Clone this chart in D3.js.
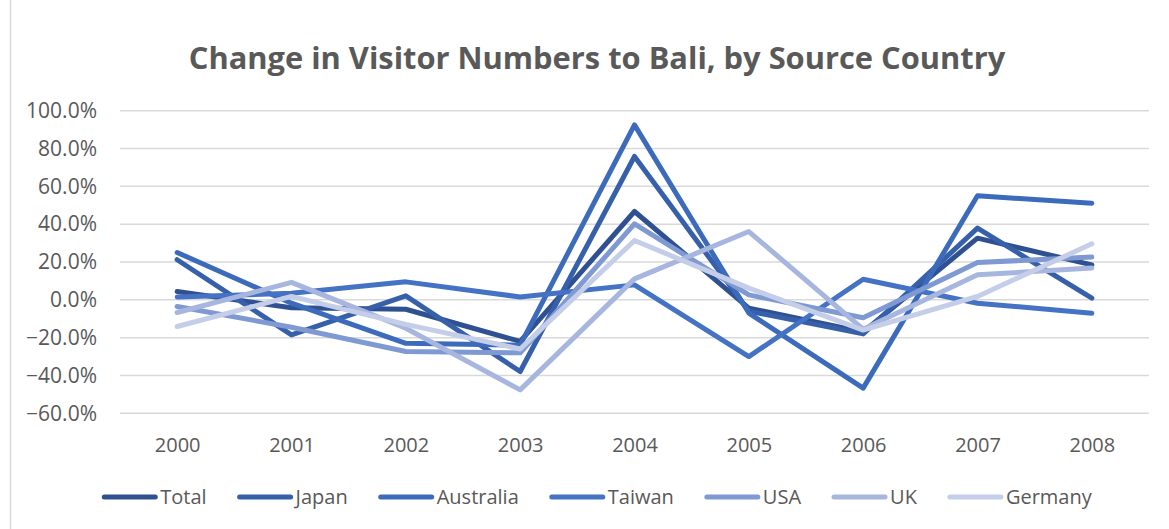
<!DOCTYPE html>
<html>
<head>
<meta charset="utf-8">
<script src="https://cdn.jsdelivr.net/npm/d3@7"></script>
<style>
    body { margin: 0; background: #fff; }
    text { font-family: "Open Sans", sans-serif; fill: #595959; }
</style>
</head>
<body>
<div id="chart"></div>
<script>
"use strict"

// data, percent change per year
var years = ['2000', '2001', '2002', '2003', '2004', '2005', '2006', '2007', '2008'];
var seriesNames = ['Total', 'Japan', 'Australia', 'Taiwan', 'USA', 'UK', 'Germany'];
var total = [4.4, -4.2, -5.0, -22.0, 46.7, -4.4, -17.0, 32.6, 18.5];
var japan = [21.2, -18.5, 2.1, -37.9, 75.8, -6.0, -18.0, 37.9, 0.9];
var australia = [25.0, -1.8, -23.0, -24.0, 92.5, -7.0, -46.7, 55.0, 51.1];
var taiwan = [1.5, 3.5, 9.5, 1.5, 7.9, -30.0, 10.9, -1.8, -7.1];
var usa = [-3.5, -14.5, -27.3, -28.0, 40.2, 2.6, -9.5, 19.7, 22.6];
var uk = [-6.7, 9.2, -15.0, -47.6, 11.1, 36.1, -15.5, 13.2, 16.8];
var germany = [-14.1, 1.8, -13.0, -26.0, 31.4, 6.2, -16.0, 1.8, 29.6];
var yTicks = [-60, -40, -20, 0, 20, 40, 60, 80, 100];
var title = 'Change in Visitor Numbers to Bali, by Source Country';

var seriesValues = [total, japan, australia, taiwan, usa, uk, germany];
var colors = ['#2f5191', '#3660a9', '#3d6bbb', '#4472c4', '#7f99d3', '#a7b6de', '#c5cee9'];

var width = 1169;
var height = 529;
var plot = {left: 120, right: 1149, top: 110.7, bottom: 413.3};
var centerX = 597;

var svg = d3.select("#chart")
    .append("svg")
    .attr("width", width)
    .attr("height", height);

// chart border (only left edge falls inside the picture)
svg.append("rect")
    .attr("x", 10.5)
    .attr("y", -5)
    .attr("width", 1200)
    .attr("height", 560)
    .attr("fill", "none")
    .attr("stroke", "#d9d9d9")
    .attr("stroke-width", 1.5);

var x = d3.scalePoint()
    .domain(years)
    .range([plot.left, plot.right])
    .padding(0.5);

var y = d3.scaleLinear()
    .domain([-60, 100])
    .range([plot.bottom, plot.top]);

// gridlines
svg.append("g")
    .selectAll("line")
    .data(yTicks)
    .enter()
    .append("line")
    .attr("x1", plot.left)
    .attr("x2", plot.right)
    .attr("y1", function(d) { return y(d); })
    .attr("y2", function(d) { return y(d); })
    .attr("stroke", "#d9d9d9")
    .attr("stroke-width", 1.5);

// y axis labels
var yAxis = svg.append("g")
    .attr("transform", "translate(" + (plot.left - 10) + ",0)")
    .call(d3.axisLeft(y).tickValues(yTicks).tickSize(0).tickPadding(13)
        .tickFormat(function(d) { return d3.format(".1f")(d) + "%"; }));
yAxis.select(".domain").remove();
yAxis.selectAll("text")
    .style("font-size", "21px")
    .attr("fill", "#595959");

// x axis labels
var xAxis = svg.append("g")
    .attr("transform", "translate(0," + (plot.bottom + 24) + ")")
    .call(d3.axisBottom(x).tickSize(0).tickPadding(0));
xAxis.select(".domain").remove();
xAxis.selectAll("text")
    .style("font-size", "20px")
    .attr("fill", "#595959");

// lines
var line = d3.line()
    .x(function(d, i) { return x(years[i]); })
    .y(function(d) { return y(d); });

svg.append("g")
    .selectAll("path")
    .data(seriesValues)
    .enter()
    .append("path")
    .attr("d", function(d) { return line(d); })
    .attr("fill", "none")
    .attr("stroke", function(d, i) { return colors[i]; })
    .attr("stroke-width", 5)
    .attr("stroke-linejoin", "round")
    .attr("stroke-linecap", "round");

// title, sized to fit the reference width
var titleText = svg.append("text")
    .attr("x", centerX)
    .attr("y", 69)
    .attr("text-anchor", "middle")
    .style("font-size", "28px")
    .style("font-weight", "bold")
    .text(title);
var tw = titleText.node().getComputedTextLength();
titleText.style("font-size", (28 * 817 / tw) + "px");

// legend, laid out in a row and centred
var swatch = 55;
var gap = 31;
var legend = svg.append("g");
var items = legend.selectAll("g")
    .data(seriesNames)
    .enter()
    .append("g");
items.append("line")
    .attr("x1", 2)
    .attr("x2", swatch - 2)
    .attr("y1", 0)
    .attr("y2", 0)
    .attr("stroke", function(d, i) { return colors[i]; })
    .attr("stroke-width", 5)
    .attr("stroke-linecap", "round");
items.append("text")
    .attr("x", swatch + 3)
    .attr("y", 7)
    .style("font-size", "20px")
    .text(function(d) { return d; });

var pos = 0;
items.each(function() {
    var w = d3.select(this).select("text").node().getComputedTextLength();
    d3.select(this).attr("transform", "translate(" + pos + ",0)");
    pos += swatch + 3 + w + gap;
});
var legendWidth = pos - gap;
legend.attr("transform", "translate(" + (centerX - legendWidth / 2) + ",497)");
</script>
</body>
</html>
